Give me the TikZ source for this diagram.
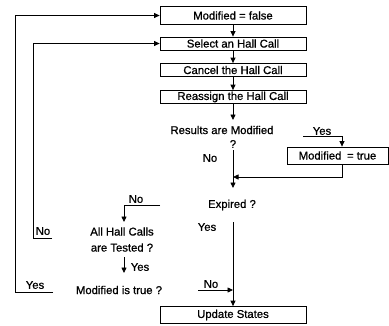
\documentclass[tikz,border=0pt]{standalone}
\usepackage{fontspec}
\setmainfont{Liberation Sans}[FakeBold=0.8]
\newfontfamily\heavy{Liberation Sans}[FakeBold=0.8]
\usetikzlibrary{arrows.meta}
\begin{document}
\begin{tikzpicture}[x=1pt,y=-1pt,
  box/.style={draw,line width=0.8pt,minimum width=146pt,minimum height=13pt,inner sep=0pt,font=\heavy\fontsize{11.3}{13}\selectfont},
  lbl/.style={inner sep=0pt,font=\heavy\fontsize{11.3}{13}\selectfont},
  ln/.style={line width=0.8pt},
  arr/.style={line width=0.8pt,-{Triangle[length=5.5pt,width=5pt]}}]
\useasboundingbox (0,0) rectangle (389,325);
% boxes
\node[box,minimum height=18pt] (mf) at (233,15.5) {Modified = false};
\node[box] (sel) at (233,43.5) {Select an Hall Call};
\node[box] (can) at (233,70) {Cancel the Hall Call};
\node[box] (rea) at (233,97) {Reassign the Hall Call};
\node[box,minimum width=101pt,minimum height=17pt] (mt) at (337.5,155.5) {Modified\enspace= true};
\node[box,minimum height=17pt] (upd) at (233,315) {Update States};
% texts
\node[lbl] (res) at (222,130) {Results are Modified};
\node[lbl] (q) at (233,144) {?};
\node[lbl] (no1) at (210,158) {No};
\node[lbl] (yes1) at (322,131) {Yes};
\node[lbl] (exp) at (232,205) {Expired ?};
\node[lbl] (yes2) at (207,227) {Yes};
\node[lbl] (no2) at (136,199) {No};
\node[lbl,align=center] (ahc) at (122,239.5) {All Hall Calls\\[3pt]are Tested ?};
\node[lbl] (yes3) at (140,267) {Yes};
\node[lbl] (mit) at (119,290) {Modified is true ?};
\node[lbl] (no3) at (211,284) {No};
\node[lbl] (no4) at (43,231) {No};
\node[lbl] (yes4) at (35,285) {Yes};
% coordinates
\coordinate (r1) at (233,120);
\coordinate (ya) at (303,136);
\coordinate (yb) at (342,136);
\coordinate (qb) at (233,150);
\coordinate (j1) at (233,177);
\coordinate (j2) at (233,188);
\coordinate (ea) at (160,205);
\coordinate (eb) at (124,205);
\coordinate (ec) at (124,222);
\coordinate (ey) at (233,222);
\coordinate (ta) at (124,257);
\coordinate (tb) at (124,273);
\coordinate (na) at (198,290);
\coordinate (nb) at (233,290);
\coordinate (ma) at (53,292);
\coordinate (mb) at (15,292);
\coordinate (ha) at (52,238);
\coordinate (hb) at (33,238);
% connectors
\draw[arr] (mf) -- (sel);
\draw[arr] (sel) -- (can);
\draw[arr] (can) -- (rea);
\draw[arr] (rea) -- (r1);
\draw[arr] (ya) -- (yb) -- (yb |- mt.north);
\draw[arr] (yb |- mt.south) |- (j1);
\draw[ln] (qb) -- (j1);
\draw[arr] (j1) -- (j2);
\draw[arr] (ea) -- (eb) -- (ec);
\draw[arr] (ey) -- (upd);
\draw[arr] (ta) -- (tb);
\draw[arr] (na) -- (nb);
\draw[arr] (ma) -- (mb) |- (mf.west);
\draw[arr] (ha) -- (hb) |- (sel.west);
\end{tikzpicture}
\end{document}
